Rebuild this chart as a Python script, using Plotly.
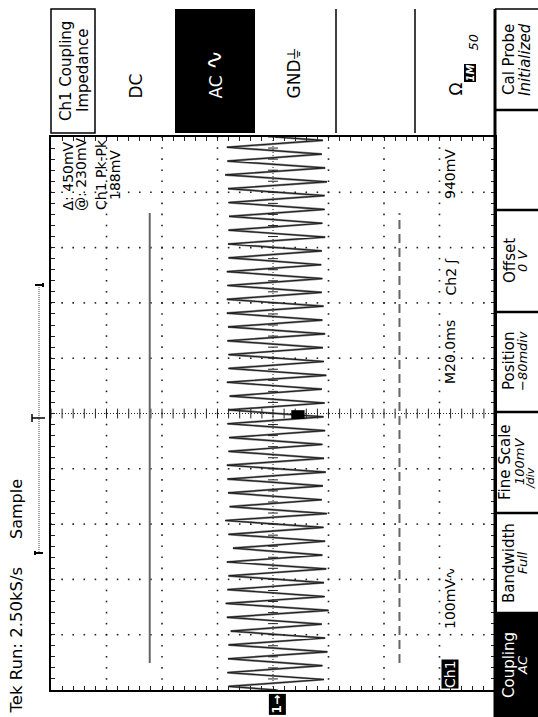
import plotly.graph_objects as go
import numpy as np

W, H = 538, 717
FONT = "DejaVu Sans"

# ---------------- data (read from the screen) ----------------
# record: 10 div x 20 ms/div, vertical 100 mV/div (ch1 ground 0.08 div below centre)
peak_times_ms = [0.0,
    1.3, 3.8, 6.3, 8.8, 11.3, 13.8, 16.3, 18.8, 21.3, 23.8,
    26.3, 28.8, 31.3, 33.8, 36.3, 38.8, 41.3, 43.8, 46.3, 48.8,
    51.3, 53.8, 56.3, 58.8, 61.3, 63.8, 66.3, 68.8, 71.3, 73.8,
    76.3, 78.8, 81.3, 83.8, 86.3, 88.8, 91.3, 93.8, 96.3, 98.8,
    101.3, 103.8, 106.3, 108.8, 111.3, 113.8, 116.3, 118.8, 121.3, 123.8,
    126.3, 128.8, 131.3, 133.8, 136.3, 138.8, 141.3, 143.8, 146.3, 148.8,
    151.3, 153.8, 156.3, 158.8, 161.3, 163.8, 166.3, 168.8, 171.3, 173.8,
    176.3, 178.8, 181.3, 183.8, 186.3, 188.8, 191.3, 193.8, 196.3, 198.8,
    200.0]
peak_mv = [2,
    88, -84, 90, -81, 89, -90, 88, -86, 84, -80,
    91, -92, 93, -85, 90, -84, 88, -88, 91, -81,
    80, -86, 88, -83, 94, -89, 86, -80, 89, -82,
    90, -87, 91, -84, 88, -81, 87, -86, 90, -83,
    89, -85, 86, -80, 91, -88, 88, -84, 88, -82,
    90, -86, 89, -81, 91, -83, 91, -80, 90, -81,
    91, -79, 88, -80, 89, -86, 88, -81, 87, -85,
    88, -85, 89, -89, 94, -86, 90, -80, 91, -82,
    4]

cursor_mv = [230, -220]          # "@: 230mV", delta 450mV
cursor_span_ms = [9.8, 172.5]
trigger_ms = 99.6
trigger_mv = -37

VMAX, VMIN = 407.9, -392.1       # left / right edge of graticule (mV)
TMIN, TMAX = 0.0, 200.0

fig = go.Figure()

# waveform (grey body with dark core, as on the CRT capture)
fig.add_trace(go.Scatter(x=peak_mv, y=peak_times_ms, mode="lines",
                         line=dict(color="#808080", width=2.2),
                         xaxis="x2", yaxis="y2", hoverinfo="skip", showlegend=False))
fig.add_trace(go.Scatter(x=peak_mv, y=peak_times_ms, mode="lines",
                         line=dict(color="#1a1a1a", width=1),
                         xaxis="x2", yaxis="y2", hoverinfo="skip", showlegend=False))

# graticule dots (every 1/5 div on each division line)
gv = [VMAX - 100 * k for k in range(1, 8) if k != 4]
gt = [20 * k for k in range(1, 10) if k != 5]
dx, dy = [], []
for v in gv:
    for t in np.arange(0, 200.01, 4):
        dx.append(v); dy.append(t)
for t in gt:
    for v in np.arange(VMIN, VMAX + 0.01, 20):
        dx.append(v); dy.append(t)
fig.add_trace(go.Scatter(x=dx, y=dy, mode="markers",
                         marker=dict(symbol="square", size=1.6, color="#222"),
                         xaxis="x2", yaxis="y2", hoverinfo="skip", showlegend=False))

# centre cross-hair with fine ticks
vc, tc = 7.9, 100.0
cy = list(np.arange(0, 200.01, 4))
fig.add_trace(go.Scatter(x=[vc] * len(cy), y=cy, mode="markers",
                         marker=dict(symbol="line-ew", size=7, line=dict(width=1, color="#222")),
                         xaxis="x2", yaxis="y2", hoverinfo="skip", showlegend=False))
hx = list(np.arange(VMIN, VMAX + 0.01, 20))
fig.add_trace(go.Scatter(x=hx, y=[tc] * len(hx), mode="markers",
                         marker=dict(symbol="line-ns", size=7, line=dict(width=1, color="#222")),
                         xaxis="x2", yaxis="y2", hoverinfo="skip", showlegend=False))

shapes = []
# centre lines (dotted)
shapes.append(dict(type="line", xref="x2", yref="y2", x0=vc, x1=vc, y0=TMIN, y1=TMAX,
                   line=dict(color="#222", width=1, dash="1px,2px")))
shapes.append(dict(type="line", xref="x2", yref="y2", x0=VMIN, x1=VMAX, y0=tc, y1=tc,
                   line=dict(color="#222", width=1, dash="1px,2px")))
# cursors
shapes.append(dict(type="line", xref="x2", yref="y2", x0=cursor_mv[0], x1=cursor_mv[0],
                   y0=cursor_span_ms[0], y1=cursor_span_ms[1], line=dict(color="#666", width=2)))
shapes.append(dict(type="line", xref="x2", yref="y2", x0=cursor_mv[1], x1=cursor_mv[1],
                   y0=cursor_span_ms[0], y1=cursor_span_ms[1],
                   line=dict(color="#666", width=2, dash="9px,5px")))
# trigger point marker
shapes.append(dict(type="rect", xref="x2", yref="y2", x0=trigger_mv - 12, x1=trigger_mv + 12,
                   y0=trigger_ms - 1.6, y1=trigger_ms + 1.6, fillcolor="black", line=dict(width=0)))

# ---- menu chrome (pixel coordinates on overlay axis) ----
def px_rect(x0, y0, x1, y1, fill=None, lw=1.5):
    d = dict(type="rect", xref="x", yref="y", x0=x0, x1=x1, y0=y0, y1=y1,
             line=dict(color="black", width=lw))
    if fill:
        d["fillcolor"] = fill
    return d

def px_line(x0, y0, x1, y1, lw=1.5, color="black", dash=None):
    d = dict(type="line", xref="x", yref="y", x0=x0, x1=x1, y0=y0, y1=y1,
             line=dict(color=color, width=lw))
    if dash:
        d["line"]["dash"] = dash
    return d

shapes.append(px_rect(51, 9, 95, 133, lw=1.5))
shapes.append(px_rect(175, 9, 255, 133, fill="black", lw=0))
shapes.append(px_line(336, 9, 336, 133))
shapes.append(px_line(415, 9, 415, 133))
shapes.append(px_line(495, 9, 540, 9, lw=1.5))
shapes.append(px_line(495, 9, 495, 717, lw=3))
for yy in [110, 210, 312, 412, 513, 613]:
    shapes.append(px_line(495, yy, 540, yy, lw=2.5))
shapes.append(px_rect(496, 613, 540, 717, fill="black", lw=0))
# record bracket
shapes.append(px_line(39, 285, 39, 553, lw=1, color="#444", dash="1px,1px"))
shapes.append(px_line(35, 285, 43, 285, lw=2))
shapes.append(px_line(43, 283, 43, 287, lw=2))
shapes.append(px_line(35, 553, 43, 553, lw=2))
shapes.append(px_line(35, 551, 35, 555, lw=2))
shapes.append(px_line(32, 418, 45, 418, lw=1.5))
shapes.append(px_line(32, 414, 32, 422, lw=1.5))

ann = []
def rt(txt, x, y, size=15, color="black", anchor="middle", bg=None):
    d = dict(text=txt, x=x, y=y, xref="x", yref="y", textangle=-90, showarrow=False,
             xanchor="center", yanchor=anchor, borderpad=0,
             font=dict(size=size, color=color, family=FONT))
    if bg:
        d["bgcolor"] = bg
    return d

ann += [
    rt("Tek Run: 2.50kS/s", 16, 715, size=16.5, anchor="bottom"),
    rt("Sample", 16, 540, size=16, anchor="bottom"),
    rt("Ch1 Coupling", 66, 71, size=15),
    rt("Impedance", 83, 71, size=15),
    rt("DC", 135, 100, size=17, anchor="bottom"),
    rt("AC", 215, 100, size=17, color="white", anchor="bottom"),
    rt("∿", 214, 71, size=24, color="white", anchor="bottom"),
    rt("GND⏚", 293, 100, size=17, anchor="bottom"),
    rt("Ω", 455, 97, size=17, anchor="bottom"),
    rt("<b><i>1M</i></b>", 470, 83, size=10, color="white", anchor="bottom", bg="black"),
    rt("<i>50</i>", 473, 52, size=13, anchor="bottom"),
    rt("Cal Probe", 509, 60, size=15),
    rt("<i>Initialized</i>", 525, 60, size=15),
    rt("Offset", 510, 261, size=15),
    rt("<i>0 V</i>", 522, 261, size=13),
    rt("Position", 509, 361, size=15),
    rt("<i>−80mdiv</i>", 522, 361, size=13),
    rt("Fine Scale", 505, 462, size=15),
    rt("<i>100mV</i>", 519, 462, size=13),
    rt("<i>/div</i>", 530, 478, size=11),
    rt("Bandwidth", 509, 563, size=15),
    rt("<i>Full</i>", 522, 563, size=13),
    rt("Coupling", 509, 665, size=15, color="white"),
    rt("<i>AC</i>", 522, 665, size=13, color="white"),
    rt("Δ: 450mV", 67, 212, size=14, anchor="bottom"),
    rt("@: 230mV", 81, 212, size=14, anchor="bottom"),
    rt("Ch1 Pk-Pk", 101, 175, size=14),
    rt("188mV", 115, 175, size=14),
    rt("M20.0ms", 450, 385, size=14, anchor="bottom"),
    rt("Ch2 ʃ", 450, 297, size=14, anchor="bottom"),
    rt("940mV", 450, 200, size=14, anchor="bottom"),
    rt("Ch1", 450, 689, size=14, color="white", anchor="bottom", bg="black"),
    rt("100mV∿", 450, 630, size=14, anchor="bottom"),
]
# ground reference marker (channel 1 at 0 V)
ann.append(dict(text="<b>1→</b>", x=0, y=704, xref="x2", yref="y", textangle=-90, showarrow=False,
                xanchor="center", yanchor="middle", bgcolor="black", borderpad=1,
                font=dict(size=12, color="white", family=FONT)))

fig.update_layout(
    width=W, height=H, margin=dict(l=0, r=0, t=0, b=0),
    paper_bgcolor="white", plot_bgcolor="rgba(0,0,0,0)",
    showlegend=False,
    xaxis=dict(domain=[0, 1], range=[0, W], visible=False, fixedrange=True),
    yaxis=dict(domain=[0, 1], range=[H, 0], visible=False, fixedrange=True),
    xaxis2=dict(domain=[51 / W, 495 / W], range=[VMAX, VMIN], anchor="y2",
                showline=True, linecolor="black", linewidth=2, mirror="ticks",
                ticks="inside", ticklen=4, tickwidth=1, tickcolor="#222",
                tick0=VMAX, dtick=20, showticklabels=False, showgrid=False, zeroline=False,
                fixedrange=True),
    yaxis2=dict(domain=[1 - 690 / H, 1 - 137 / H], range=[TMIN, TMAX], anchor="x2",
                showline=True, linecolor="black", linewidth=2, mirror="ticks",
                ticks="inside", ticklen=4, tickwidth=1, tickcolor="#222",
                tick0=0, dtick=4, showticklabels=False, showgrid=False, zeroline=False,
                fixedrange=True),
    shapes=shapes, annotations=ann,
)

fig.write_html("out.html", config={"displayModeBar": False, "staticPlot": True},
               post_script="document.body.style.margin='0';")
